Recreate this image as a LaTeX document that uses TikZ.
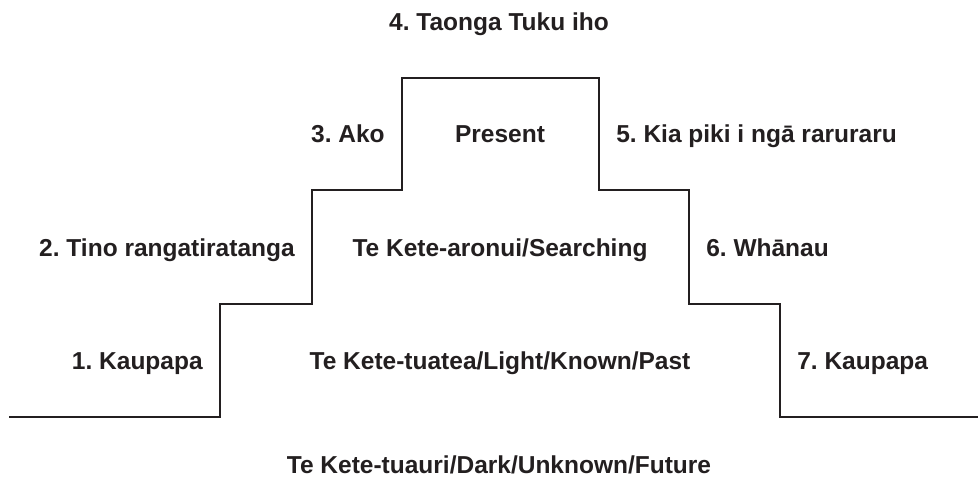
\documentclass[tikz,border=0pt]{standalone}
\usepackage{fontspec}
\setmainfont{Liberation Sans}
\definecolor{ink}{HTML}{231F20}
\frenchspacing
\begin{document}
\begin{tikzpicture}[x=1pt, y=-1pt, line width=2.6pt, ink,
  lbl/.style={font=\fontsize{24.5}{28}\bfseries\selectfont, text=ink, inner sep=0pt}]
	\useasboundingbox (0,0) rectangle (978,486);
	\draw[line join=miter] (9,417) -- (220,417) -- (220,304) -- (312,304) -- (312,190) -- (402,190) -- (402,78) -- (599,78) -- (599,190) -- (689,190) -- (689,304) -- (780,304) -- (780,417) -- (978,417);
	\node[lbl, anchor=base] (taonga) at (499,31) {4. Taonga Tuku iho};
	\node[lbl, anchor=base east] (ako) at (386,143) {3. Ako};
	\node[lbl, anchor=base] (present) at (500,143) {Present};
	\node[lbl, anchor=base west] (kiapiki) at (615,143) {5. Kia piki i ngā raruraru};
	\node[lbl, anchor=base east] (tino) at (296,257) {2. Tino rangatiratanga};
	\node[lbl, anchor=base] (aronui) at (500,257) {Te Kete-aronui/Searching};
	\node[lbl, anchor=base west] (whanau) at (705,257) {6. Whānau};
	\node[lbl, anchor=base east] (kaupapaL) at (204,370) {1. Kaupapa};
	\node[lbl, anchor=base] (tuatea) at (500,370) {Te Kete-tuatea/Light/Known/Past};
	\node[lbl, anchor=base west] (kaupapaR) at (796,370) {7. Kaupapa};
	\node[lbl, anchor=base] (tuauri) at (499,473) {Te Kete-tuauri/Dark/Unknown/Future};
\end{tikzpicture}
\end{document}
